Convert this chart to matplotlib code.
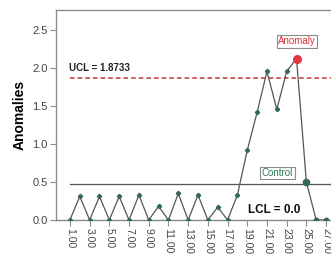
import matplotlib.pyplot as plt

plt.rcParams['font.family'] = ['Liberation Sans', 'DejaVu Sans']

# datos
muestras = list(range(1, 28))
anomalias = [0, 0.31, 0, 0.31, 0, 0.31, 0, 0.33, 0, 0.18,
             0, 0.35, 0, 0.33, 0, 0.17, 0, 0.33, 0.92, 1.42,
             1.96, 1.46, 1.96, 2.13, 0.50, 0, 0]
ucl = 1.8733
lcl = 0.0
centro = 0.48
etiquetas_x = [1, 3, 5, 7, 9, 11, 13, 15, 17, 19, 21, 23, 25, 27]
etiquetas_y = [0.0, 0.5, 1.0, 1.5, 2.0, 2.5]
idx_anomalia = 23
idx_control = 24

fig = plt.figure(figsize=(3.31, 2.57), dpi=100)
ax = fig.add_axes([0.169, 0.144, 0.831, 0.817])

gris = '#8c8c8c'
verde = '#2f6b4c'

# lineas de control
ax.axhline(ucl, xmin=(1 + 0.42) / 27.92, color='#c0392b', linestyle=(0, (3, 2)), linewidth=1.1)
ax.axhline(centro, xmin=(1 + 0.42) / 27.92, color='#555555', linewidth=0.9)
ax.axhline(lcl, xmin=(1 + 0.42) / 27.92, color='#4f8a66', linestyle=(0, (3, 2)), linewidth=0.8)

# serie
ax.plot(muestras, anomalias, color='#555555', linewidth=0.9, marker='D',
        markersize=2.2, markerfacecolor=verde, markeredgecolor=verde, zorder=3)
ax.plot(muestras[idx_anomalia], anomalias[idx_anomalia], 'o', color='#e0383e', markersize=5.5, zorder=4)
ax.plot(muestras[idx_control], anomalias[idx_control], 'o', color=verde, markersize=4.5, zorder=4)
ax.plot(muestras[25:], anomalias[25:], 'o', color=verde, markersize=3.2, zorder=4)

# textos
ax.text(0.95, 1.97, 'UCL = 1.8733', fontsize=7, fontweight='bold', color='#222222', va='baseline')
ax.text(19.05, 0.09, 'LCL = 0.0', fontsize=8.5, fontweight='bold', color='#111111', va='baseline')
ax.text(24.05, 2.36, 'Anomaly', fontsize=7, color='#d9323c', ha='center', va='center',
        bbox=dict(boxstyle='square,pad=0.15', facecolor='white', edgecolor=gris, linewidth=0.8))
ax.text(22.07, 0.62, 'Control', fontsize=7, color='#2f7a4f', ha='center', va='center',
        bbox=dict(boxstyle='square,pad=0.15', facecolor='white', edgecolor=gris, linewidth=0.8))

ax.set_xlim(-0.42, 27.5)
ax.set_ylim(0, 2.77)
ax.set_xticks(etiquetas_x)
ax.set_xticklabels(['%.2f' % v for v in etiquetas_x], rotation=-90, fontsize=7.5, color='#444444')
ax.set_yticks(etiquetas_y)
ax.set_yticklabels(['%.1f' % v for v in etiquetas_y], fontsize=8, color='#444444')
ax.set_ylabel('Anomalies', fontsize=10, fontweight='bold', labelpad=4)

for lado in ['left', 'top', 'bottom']:
    ax.spines[lado].set_color(gris)
    ax.spines[lado].set_linewidth(1)
ax.spines['right'].set_visible(False)
ax.tick_params(axis='both', color=gris, length=4, width=0.8, pad=2)

fig.savefig('out.png', dpi=100)
